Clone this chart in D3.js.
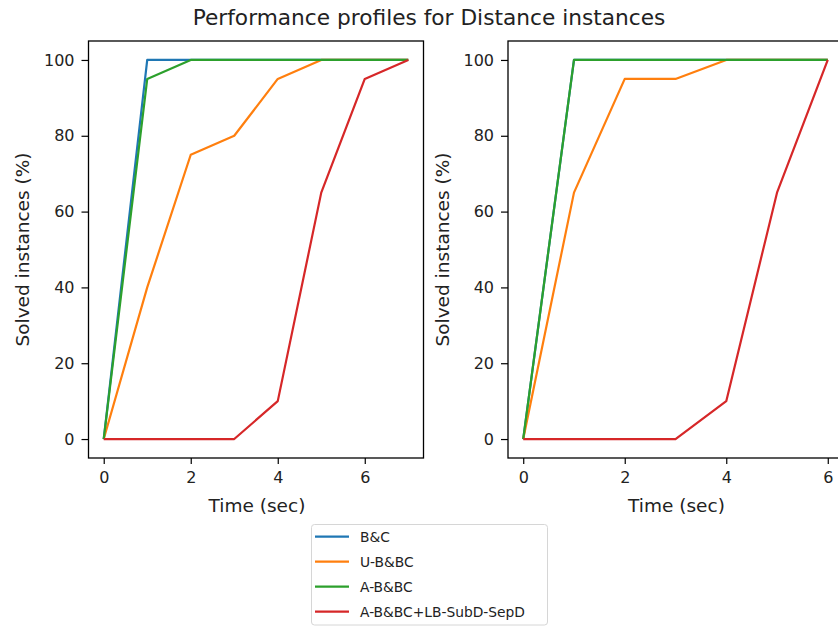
<!DOCTYPE html>
<meta charset="utf-8">
<script src="https://d3js.org/d3.v7.min.js"></script>
<style>
  body { margin: 0; background: #fff; }
  text { font-family: "DejaVu Sans", sans-serif; fill: #222; }
</style>
<div id="chart"></div>
<script>
// series names and colours (matplotlib tab10)
var seriesNames = ["B&C", "U-B&BC", "A-B&BC", "A-B&BC+LB-SubD-SepD"];
var seriesColors = ["#1f77b4", "#ff7f0e", "#2ca02c", "#d62728"];

// left panel: times 0..7
var leftTimes = [0, 1, 2, 3, 4, 5, 6, 7];
var leftBC   = [0, 100, 100, 100, 100, 100, 100, 100];
var leftUBBC = [0, 40, 75, 80, 95, 100, 100, 100];
var leftABBC = [0, 95, 100, 100, 100, 100, 100, 100];
var leftLB   = [0, 0, 0, 0, 10, 65, 95, 100];

// right panel: times 0..6
var rightTimes = [0, 1, 2, 3, 4, 5, 6];
var rightBC   = [0, 100, 100, 100, 100, 100, 100];
var rightUBBC = [0, 65, 95, 95, 100, 100, 100];
var rightABBC = [0, 100, 100, 100, 100, 100, 100];
var rightLB   = [0, 0, 0, 0, 10, 65, 100];

var yTicks = [0, 20, 40, 60, 80, 100];
var xTicks = [0, 2, 4, 6];

var W = 838, H = 627;
var svg = d3.select("#chart").append("svg")
    .attr("width", W).attr("height", H);

svg.append("text")
    .attr("x", 429).attr("y", 25)
    .attr("text-anchor", "middle")
    .style("font-size", "21.7px")
    .text("Performance profiles for Distance instances");

var panels = [
  { left: 88.5, width: 335, times: leftTimes, series: [leftBC, leftUBBC, leftABBC, leftLB] },
  { left: 508, width: 335, times: rightTimes, series: [rightBC, rightUBBC, rightABBC, rightLB] }
];

var plotTop = 41, plotBottom = 458;

panels.forEach(function (p) {
  var tMax = d3.max(p.times);
  var pad = tMax * 0.05;
  var x = d3.scaleLinear().domain([-pad, tMax + pad]).range([p.left, p.left + p.width]);
  var y = d3.scaleLinear().domain([-5, 105]).range([plotBottom, plotTop]);

  var g = svg.append("g");

  var line = d3.line()
      .x(function (d) { return x(d[0]); })
      .y(function (d) { return y(d[1]); });

  p.series.forEach(function (vals, i) {
    g.append("path")
        .datum(p.times.map(function (t, j) { return [t, vals[j]]; }))
        .attr("d", line)
        .attr("fill", "none")
        .attr("stroke", seriesColors[i])
        .attr("stroke-width", 2.2)
        .attr("stroke-linejoin", "round");
  });

  // frame
  g.append("rect")
      .attr("x", p.left).attr("y", plotTop)
      .attr("width", p.width).attr("height", plotBottom - plotTop)
      .attr("fill", "none").attr("stroke", "#000").attr("stroke-width", 1.3);

  var xAxis = g.append("g")
      .attr("transform", "translate(0," + plotBottom + ")")
      .call(d3.axisBottom(x).tickValues(xTicks).tickSize(6).tickPadding(8).tickFormat(d3.format("d")));
  var yAxis = g.append("g")
      .attr("transform", "translate(" + p.left + ",0)")
      .call(d3.axisLeft(y).tickValues(yTicks).tickSize(7).tickPadding(7).tickFormat(d3.format("d")));
  [xAxis, yAxis].forEach(function (a) {
    a.select(".domain").remove();
    a.selectAll("text").style("font-size", "16px").attr("fill", "#222")
        .style("font-family", "DejaVu Sans, sans-serif");
    a.selectAll("line").attr("stroke", "#000").attr("stroke-width", 1.2);
  });

  g.append("text")
      .attr("x", p.left + p.width / 2 + 1).attr("y", 512)
      .attr("text-anchor", "middle")
      .style("font-size", "18.5px")
      .text("Time (sec)");

  g.append("text")
      .attr("transform", "translate(" + (p.left - 59.5) + "," + ((plotTop + plotBottom) / 2) + ")rotate(-90)")
      .attr("text-anchor", "middle")
      .style("font-size", "18.5px")
      .text("Solved instances (%)");
});

// legend
var leg = svg.append("g").attr("transform", "translate(311.5,524.5)");
leg.append("rect")
    .attr("width", 236).attr("height", 100.5).attr("rx", 3)
    .attr("fill", "#fff").attr("stroke", "#d6d6d6");
seriesNames.forEach(function (name, i) {
  var yy = 12.2 + i * 25;
  leg.append("line")
      .attr("x1", 3.5).attr("x2", 37.5).attr("y1", yy).attr("y2", yy)
      .attr("stroke", seriesColors[i]).attr("stroke-width", 2.2);
  leg.append("text")
      .attr("x", 48.5).attr("y", yy + 5)
      .style("font-size", "13.8px")
      .text(name);
});
</script>
